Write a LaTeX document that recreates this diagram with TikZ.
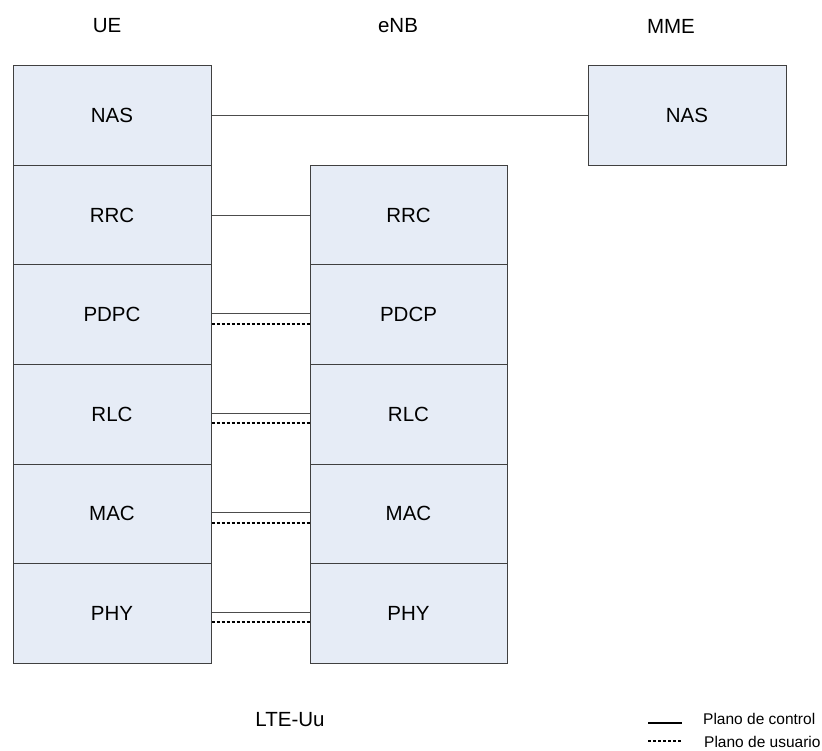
\documentclass[tikz,border=0pt]{standalone}
\usepackage{fontspec}
\setmainfont{Liberation Sans}
\begin{document}
\begin{tikzpicture}[x=1pt,y=-1pt,
  layer/.style={draw=black!75, line width=1pt, fill=boxfill, minimum height=99.5pt, inner sep=0pt, font=\fontsize{20.5}{24}\selectfont},
  uecol/.style={layer, minimum width=198pt},
  enbcol/.style={layer, minimum width=197pt},
  title/.style={font=\fontsize{20.5}{24}\selectfont, inner sep=0pt},
  ctrl/.style={draw=black!70, line width=1pt},
  user/.style={draw=black, line width=1.6pt, dash pattern=on 3pt off 2pt},
  legtext/.style={font=\fontsize{15.5}{18}\selectfont, anchor=west, inner sep=0pt}]
\definecolor{boxfill}{HTML}{E6ECF6}
\useasboundingbox (0,0) rectangle (822,751);
% titles
\node[title] (tue) at (107,26) {UE};
\node[title] (tenb) at (398,26) {eNB};
\node[title] (tmme) at (671,26) {MME};
% UE stack
\node[uecol] (uenas) at (112,115.75) {NAS};
\node[uecol] (uerrc) at (112,215.25) {RRC};
\node[uecol] (uepdcp) at (112,314.75) {PDPC};
\node[uecol] (uerlc) at (112,414.25) {RLC};
\node[uecol] (uemac) at (112,513.75) {MAC};
\node[uecol] (uephy) at (112,613.25) {PHY};
% eNB stack
\node[enbcol] (enbrrc) at (408.5,215.25) {RRC};
\node[enbcol] (enbpdcp) at (408.5,314.75) {PDCP};
\node[enbcol] (enbrlc) at (408.5,414.25) {RLC};
\node[enbcol] (enbmac) at (408.5,513.75) {MAC};
\node[enbcol] (enbphy) at (408.5,613.25) {PHY};
% MME
\node[uecol] (mmenas) at (687,115.75) {NAS};
% connectors
\draw[ctrl] (uenas.east) -- (mmenas.west);
\draw[ctrl] (uerrc.east) -- (enbrrc.west);
\foreach \a/\b in {uepdcp/enbpdcp, uerlc/enbrlc, uemac/enbmac, uephy/enbphy}{
  \draw[ctrl] ([yshift=1pt]\a.east) -- ([yshift=1pt]\b.west);
  \draw[user] ([yshift=-9pt]\a.east) -- ([yshift=-9pt]\b.west);
}
% interface label
\node[title] (lteuu) at (290,720) {LTE-Uu};
% legend
\coordinate (l1a) at (648,723);
\coordinate (l1b) at (682,723);
\coordinate (l2a) at (648,741);
\coordinate (l2b) at (682,741);
\draw[draw=black, line width=1.2pt] (l1a) -- (l1b);
\draw[user] (l2a) -- (l2b);
\node[legtext] (lctrl) at (703,719) {Plano de control};
\node[legtext] (luser) at (704,742) {Plano de usuario};
\end{tikzpicture}
\end{document}
